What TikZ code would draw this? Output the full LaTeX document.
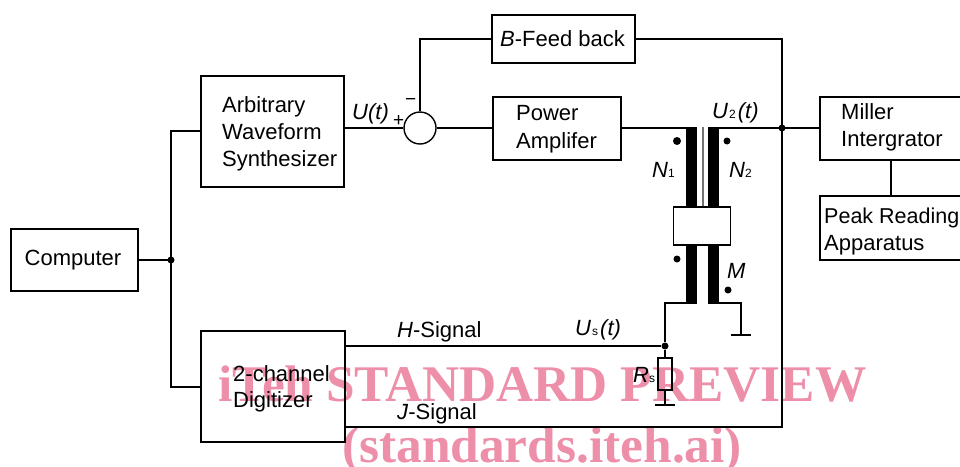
\documentclass[tikz,border=0pt]{standalone}
\usepackage{fontspec}
\setmainfont{Liberation Sans}
\newfontfamily\wmfont{Liberation Serif}
\begin{document}
\begin{tikzpicture}[x=1pt,y=-1pt,
  box/.style={draw=black,line width=1.4pt,inner sep=0pt},
  wire/.style={draw=black,line width=1.4pt},
  lbl/.style={font=\fontsize{22}{26}\selectfont,inner sep=0pt,anchor=base west},
  mlbl/.style={font=\fontsize{22}{26}\selectfont\itshape,inner sep=0pt,anchor=base west},
  wm/.style={font=\wmfont\bfseries\fontsize{51.4}{52}\selectfont,text=wmpink,inner sep=0pt,anchor=base west},
  junction/.style={circle,fill=black,inner sep=0pt,minimum size=7pt},
  marker/.style={circle,fill=black,inner sep=0pt,minimum size=8pt},
  coil/.style={fill=black,draw=none},
  corebox/.style={draw=black,line width=1.2pt,fill=white}]
\definecolor{wmpink}{RGB}{238,143,170}
\useasboundingbox (0,0) rectangle (960,466);
% watermark
\node[wm] (wm1) at (218,401) {iTeh STANDARD PREVIEW};
\node[wm] (wm2) at (342,462) {(standards.iteh.ai)};
% blocks
\node[box,minimum width=127pt,minimum height=62pt] (comp) at (74.5,260) {};
\node[lbl,anchor=center] at (73,260) {Computer};
\node[box,minimum width=143pt,minimum height=111pt] (aws) at (272.5,131.5) {};
\node[lbl] at (222,112) {Arbitrary};
\node[lbl] at (222,139) {Waveform};
\node[lbl] at (222,166) {Synthesizer};
\node[box,minimum width=144pt,minimum height=111pt] (dig) at (273,386.5) {};
\node[lbl] at (233,381) {2-channel};
\node[lbl] at (233,407) {Digitizer};
\node[box,minimum width=143pt,minimum height=48pt] (fb) at (563.5,39) {};
\node[lbl] at (500,46) {\textit{B}-Feed back};
\node[box,minimum width=128pt,minimum height=63pt] (pa) at (557,128.5) {};
\node[lbl] at (516,120) {Power};
\node[lbl] at (516,148) {Amplifer};
\node[box,minimum width=145pt,minimum height=63pt] (mi) at (892.5,128.5) {};
\node[lbl] at (841,119) {Miller};
\node[lbl] at (841,146) {Intergrator};
\node[box,minimum width=145pt,minimum height=64pt] (pk) at (892.5,228) {};
\node[lbl,font=\fontsize{21.5}{26}\selectfont] at (824,223) {Peak Reading};
\node[lbl] at (824,250) {Apparatus};
% sum
\node[draw=black,line width=1.4pt,circle,minimum size=32pt,inner sep=0pt] (sum) at (420,128) {};
% coordinates
\coordinate (jc) at (171,260);
\coordinate (jt) at (171,131);
\coordinate (jb) at (171,387);
\coordinate (fbr) at (782,39);
\coordinate (jm) at (782,128);
\coordinate (fbb) at (782,427);
\coordinate (fbl) at (420,39);
\coordinate (pl) at (686,128);
\coordinate (pr) at (719,128);
\coordinate (ll) at (686,303);
\coordinate (lc) at (665,303);
\coordinate (lr) at (719,303);
\coordinate (lg) at (741,303);
\coordinate (g1) at (741,335);
\coordinate (g1a) at (731,335);
\coordinate (g1b) at (751,335);
\coordinate (g2) at (665,405);
\coordinate (g2a) at (655,405);
\coordinate (g2b) at (675,405);
% resistor
\node[draw=black,line width=1.4pt,minimum width=14pt,minimum height=32pt,inner sep=0pt] (rs) at (665,374) {};
\node[junction] (jh) at (665,346) {};
% wires
\draw[wire] (comp.east |- jc) -- (jc);
\draw[wire] (aws.west |- jt) -- (jt) -- (jb) -- (dig.west |- jb);
\draw[wire] (aws.east |- sum) -- (sum.west);
\draw[wire] (sum.east) -- (pa.west |- sum);
\draw[wire] (fb.west) -- (fbl) -- (sum.north);
\draw[wire] (fb.east) -- (fbr) -- (fbb) -- (dig.east |- fbb);
\draw[wire] (pa.east |- pl) -- (pl);
\draw[wire] (pr) -- (mi.west |- pr);
\draw[wire] (mi.south -| 891,0) -- (pk.north -| 891,0);
\draw[wire] (ll) -- (lc) -- (jh);
\draw[wire] (jh) -- (rs.north);
\draw[wire] (rs.south) -- (g2);
\draw[wire] (g2a) -- (g2b);
\draw[wire] (dig.east |- jh) -- (jh);
\draw[wire] (lr) -- (lg) -- (g1);
\draw[wire] (g1a) -- (g1b);
% transformer
\fill[coil] (686,127) rectangle (697,207);
\fill[coil] (708,127) rectangle (719,207);
\fill[coil] (686,245) rectangle (697,304);
\fill[coil] (708,245) rectangle (719,304);
\draw[draw=black!55,line width=2pt] (702.5,127) -- (702.5,207);
\draw[corebox] (673.5,207) rectangle (730.5,245);
% dots
\node[junction] (j1) at (jc) {};
\node[junction] (j2) at (jm) {};
\node[marker] (d1) at (677,141) {};
\node[junction] (d2) at (727,141) {};
\node[junction] (d3) at (677,259) {};
\node[junction] (d4) at (728,290) {};
% labels
\node[mlbl] at (352,119) {U(t)};
\node[lbl,font=\fontsize{19}{20}\selectfont] at (393,126) {+};
\node[lbl,font=\fontsize{19}{20}\selectfont] at (405,105) {\textminus};
\node[mlbl] (u2) at (712,118) {U\hspace{1pt}\textnormal{\fontsize{12}{12}\selectfont 2}\hspace{2pt}(t)};
\node[mlbl] at (652,177) {N\textnormal{\fontsize{12}{12}\selectfont 1}};
\node[mlbl] at (729,177) {N\textnormal{\fontsize{12}{12}\selectfont 2}};
\node[mlbl] at (727,278) {M};
\node[lbl] at (397,337) {\textit{H}-Signal};
\node[lbl] at (397,419) {\textit{J}-Signal};
\node[mlbl] at (575,335) {U\hspace{1pt}\textnormal{\fontsize{12}{12}\selectfont s}\hspace{2pt}(t)};
\node[mlbl] at (633,382) {R\textnormal{\fontsize{12}{12}\selectfont s}};
\end{tikzpicture}
\end{document}
